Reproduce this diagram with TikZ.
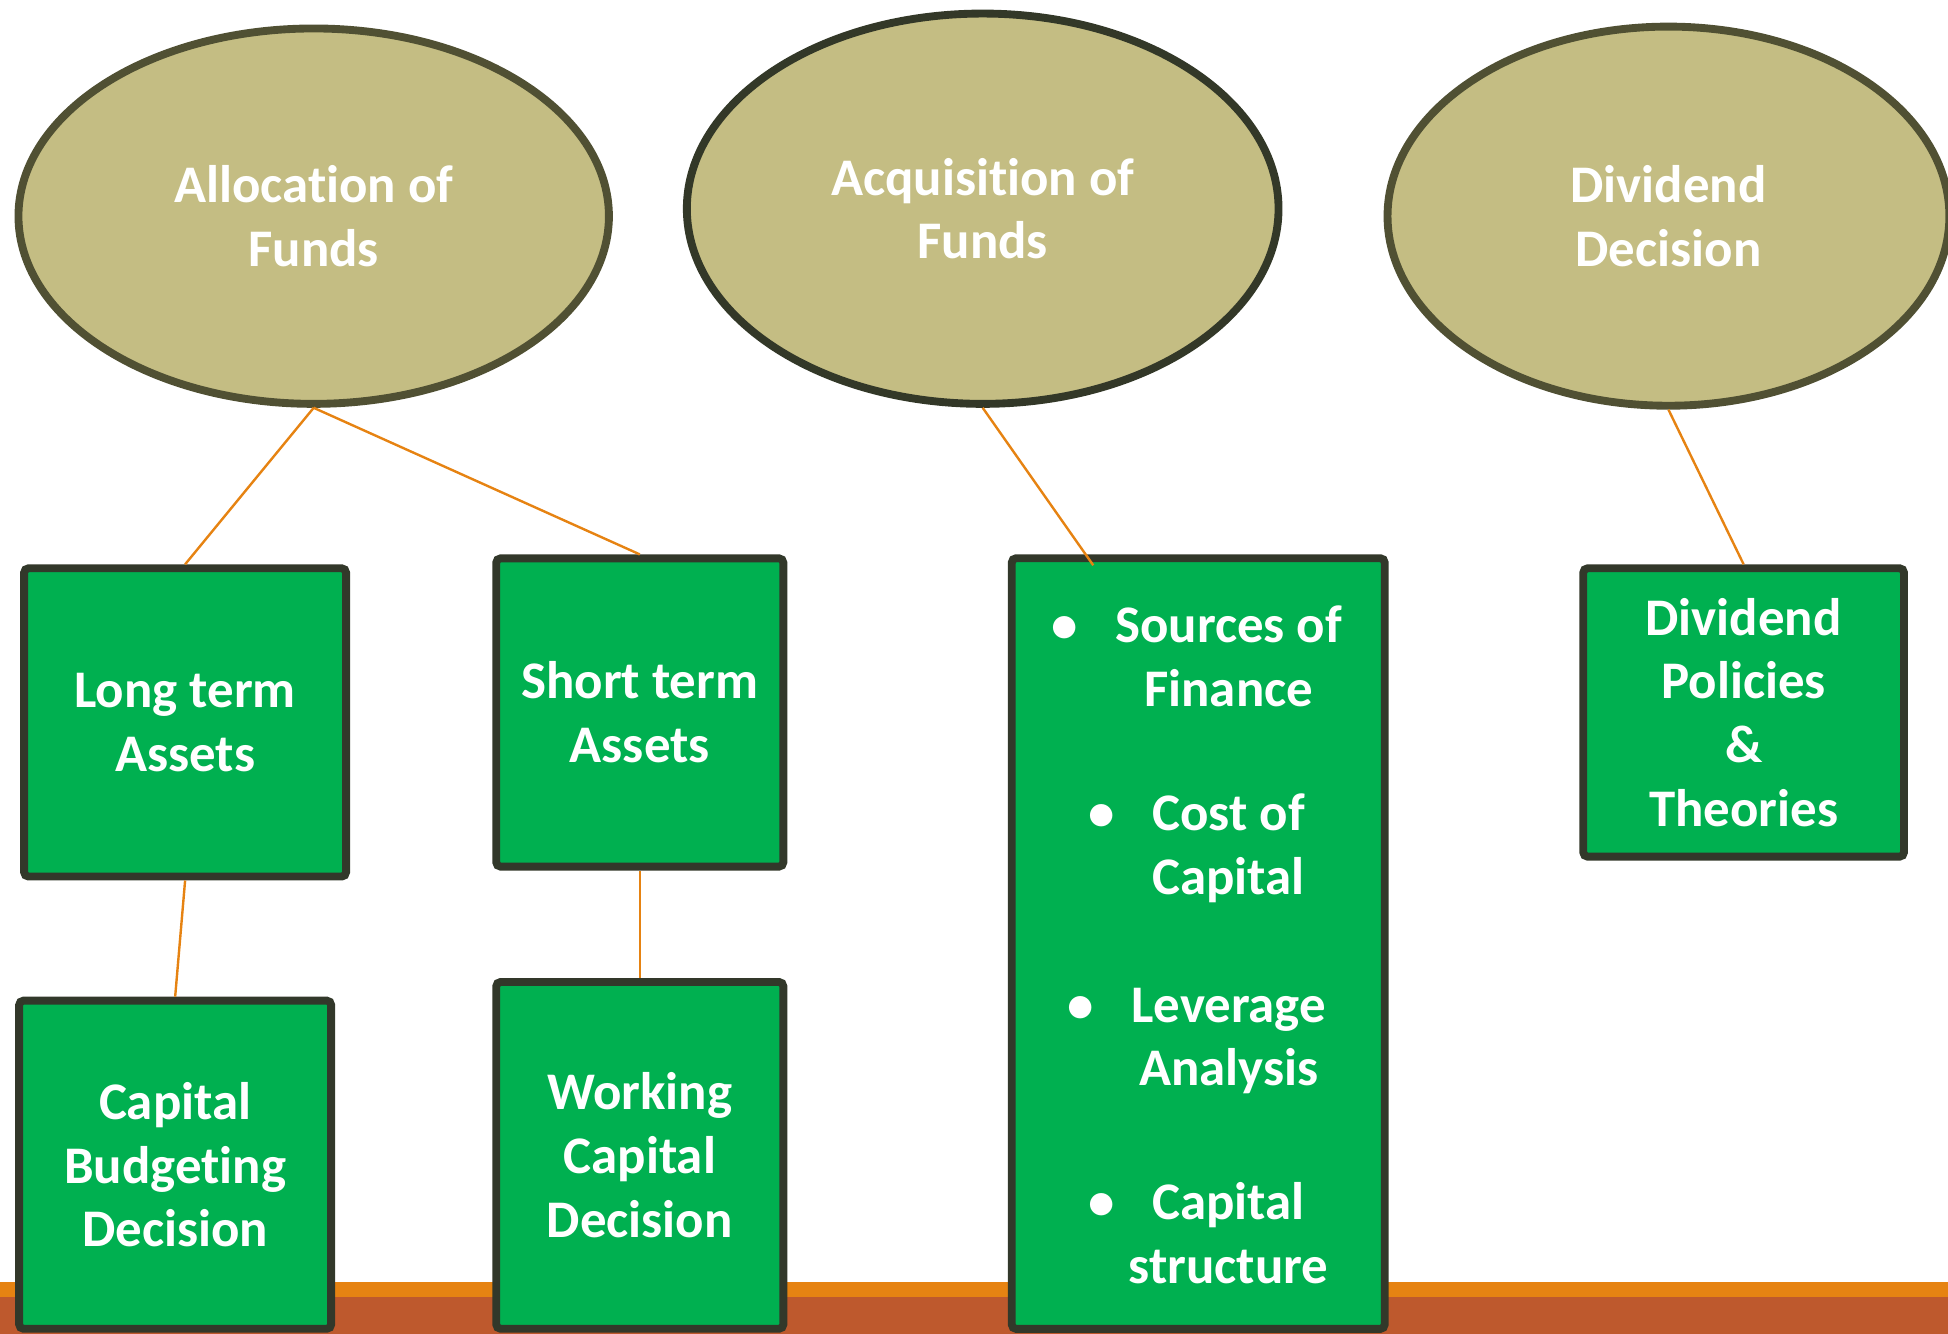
\documentclass[tikz,border=0pt]{standalone}
\usepackage{fontspec}
\setmainfont{Carlito}[Ligatures=NoCommon]
\usepackage{xcolor}
\usetikzlibrary{shapes.geometric}
\definecolor{ovalfill}{RGB}{196,189,131}
\definecolor{ovalline}{RGB}{80,80,51}
\definecolor{ovaldark}{RGB}{51,56,40}
\definecolor{boxgreen}{RGB}{0,176,80}
\definecolor{boxline}{RGB}{50,56,42}
\definecolor{linkorange}{RGB}{230,131,18}
\definecolor{bandrust}{RGB}{190,89,45}

\begin{document}
\begin{tikzpicture}[x=0.01cm, y=-0.01cm,
        txt/.style={text=white, font=\bfseries\fontsize{12.1}{14.6}\selectfont, align=center},
        oval/.style={ellipse, txt, draw=ovalline, fill=ovalfill, line width=1.8pt, inner sep=0pt},
        greenbox/.style={rectangle, txt, draw=boxline, fill=boxgreen, line width=1.8pt, rounded corners=1pt, inner sep=0pt},
        link/.style={draw=linkorange, line width=0.55pt}]
            \useasboundingbox (0,0) rectangle (1568,1073);
            \fill [linkorange] (0,1032) rectangle (1568,1044); % band at the bottom
            \fill [bandrust] (0,1044) rectangle (1568,1080);

            \node [oval, minimum width=4.75cm, minimum height=3.02cm] (alloc) at (252.5,174) {Allocation of\\Funds};
            \node [oval, draw=ovaldark, minimum width=4.76cm, minimum height=3.14cm] (acq) at (791,168) {Acquisition of\\Funds};
            \node [oval, minimum width=4.52cm, minimum height=3.05cm] (divd) at (1343,174) {Dividend\\Decision};

            \node [greenbox, minimum width=2.59cm, minimum height=2.48cm] (longterm) at (149,581.5) {Long term\\Assets};
            \node [greenbox, minimum width=2.31cm, minimum height=2.48cm] (shortterm) at (515,573.5) {Short term\\Assets};
            \node [greenbox, minimum width=2.51cm, minimum height=2.64cm] (capbud) at (141,937.5) {Capital\\Budgeting\\Decision};
            \node [greenbox, minimum width=2.31cm, minimum height=2.79cm] (workcap) at (515,930) {Working\\Capital\\Decision};
            \node [greenbox, minimum width=3.00cm, minimum height=6.20cm] (finbox) at (964.5,759.5) {};
            \node [greenbox, minimum width=2.58cm, minimum height=2.32cm] (divpol) at (1403.5,573.5) {Dividend\\Policies\\\&\\Theories};

            % items in the finance box
            \node [txt] (srcfin) at (989,528) {\makebox[0pt][r]{\textbullet\hspace{0.3cm}}Sources of\\Finance};
            \node [txt] (costcap) at (989,683) {\makebox[0pt][r]{\textbullet\hspace{0.3cm}}Cost of\\Capital};
            \node [txt] (levan) at (989,838) {\makebox[0pt][r]{\textbullet\hspace{0.3cm}}Leverage\\Analysis};
            \node [txt] (capstr) at (989,992.5) {\makebox[0pt][r]{\textbullet\hspace{0.3cm}}Capital\\structure};

            \coordinate (finentry) at (880,455); % line ends a bit inside the box
            \draw [link] (alloc.south) -- (longterm.north);
            \draw [link] (alloc.south) -- (shortterm.north);
            \draw [link] (longterm.south) -- (capbud.north);
            \draw [link] (shortterm.south) -- (workcap.north);
            \draw [link] (acq.south) -- (finentry);
            \draw [link] (divd.south) -- (divpol.north);
        \end{tikzpicture}
\end{document}
